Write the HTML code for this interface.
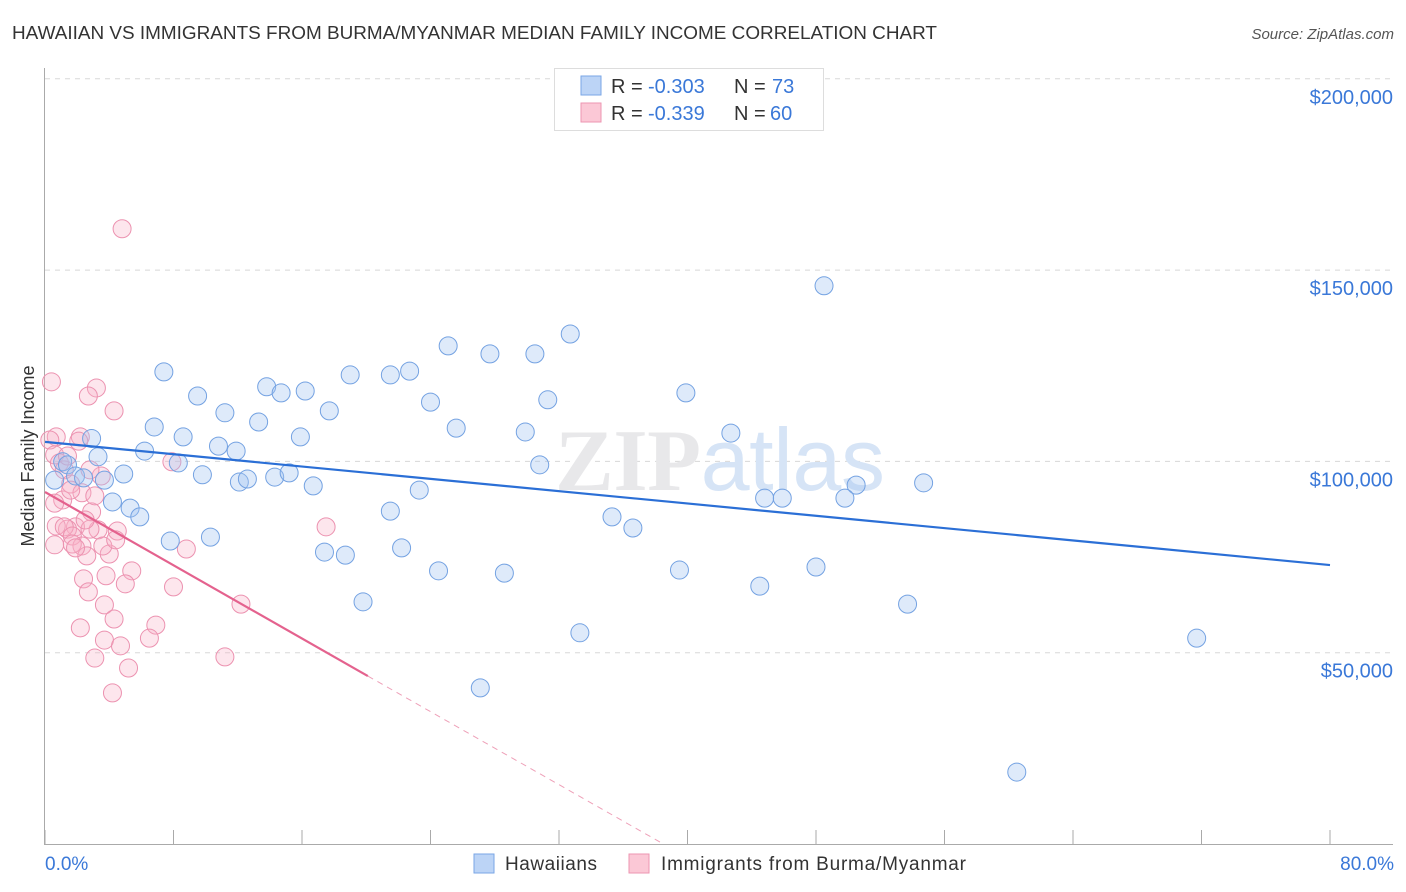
<!DOCTYPE html>
<html><head><meta charset="utf-8"><style>
body{margin:0;background:#fff;font-family:"Liberation Sans",sans-serif}
</style></head><body>
<svg width="1406" height="892" style="display:block">
<g id="grid"></g>
<text x="555" y="490" font-size="88" fill="#e8e8ea" font-family="Liberation Serif" font-weight="bold" textLength="330">ZIP<tspan fill="#d6e4f6" font-family="Liberation Sans" font-weight="normal">atlas</tspan></text>
<g id="axes"></g>
<g id="marks"></g>
<g id="trends"></g>
<text x="12" y="39" font-size="18" fill="#333" textLength="925" lengthAdjust="spacingAndGlyphs">HAWAIIAN VS IMMIGRANTS FROM BURMA/MYANMAR MEDIAN FAMILY INCOME CORRELATION CHART</text>
<text x="1394" y="39" font-size="15" fill="#555" font-style="italic" text-anchor="end">Source: ZipAtlas.com</text>
<text transform="translate(34,456) rotate(-90)" font-size="18" fill="#333" text-anchor="middle">Median Family Income</text>
<text x="45" y="870" font-size="19" fill="#3a78d8">0.0%</text>
<text x="1394" y="870" font-size="19" fill="#3a78d8" text-anchor="end">80.0%</text>
<g>
<rect x="554.5" y="68.5" width="269" height="62" fill="#fff" stroke="#ddd"/>
<rect x="581" y="76" width="20" height="19" fill="#bcd4f6" stroke="#7aa6e6"/>
<rect x="581" y="103" width="20" height="19" fill="#fbc8d6" stroke="#ec96b2"/>
<text x="611" y="93" font-size="20" fill="#333">R = <tspan fill="#3a78d8" x="648">-0.303</tspan><tspan x="734">N = </tspan><tspan fill="#3a78d8" x="772">73</tspan></text>
<text x="611" y="120" font-size="20" fill="#333">R = <tspan fill="#3a78d8" x="648">-0.339</tspan><tspan x="734">N = </tspan><tspan fill="#3a78d8" x="770">60</tspan></text>
</g>
<g>
<rect x="474" y="854" width="20" height="19" fill="#bcd4f6" stroke="#7aa6e6"/>
<text x="505" y="870" font-size="19" fill="#333" textLength="92">Hawaiians</text>
<rect x="629" y="854" width="20" height="19" fill="#fbc8d6" stroke="#ec96b2"/>
<text x="661" y="870" font-size="19" fill="#333" textLength="305">Immigrants from Burma/Myanmar</text>
</g>
</svg>
<script>
const yTicks=[50000,100000,150000,200000];
const yTickLabels=["$50,000","$100,000","$150,000","$200,000"];
const xTicks=[0,8,16,24,32,40,48,56,64,72,80];
const blueX=[7.4,2.9,6.8,8.6,9.5,11.2,13.8,14.7,16.2,13.3,10.8,11.9,15.9,17.7,19.0,21.5,22.7,25.1,27.7,30.5,32.7,24.0,25.6,31.3,29.9,39.9,42.7,48.5,6.2,3.3,4.9,8.3,9.8,12.1,12.6,14.3,15.2,16.7,23.3,21.5,30.8,35.3,36.6,44.8,45.9,50.5,49.8,54.7,4.2,5.3,5.9,7.8,10.3,17.4,18.7,22.2,24.5,28.6,39.5,44.5,48.0,19.8,33.3,53.7,71.7,27.1,60.5,1.1,1.4,1.9,2.4,0.6,3.7];
const blueY=[123.4,106.0,109.0,106.4,117.1,112.7,119.5,117.9,118.4,110.3,104.0,102.7,106.4,113.2,122.6,122.6,123.6,130.2,128.1,128.1,133.3,115.5,108.7,116.1,107.7,117.9,107.4,145.9,102.7,101.2,96.7,99.6,96.5,94.6,95.4,95.9,97.0,93.6,92.5,87.0,99.1,85.5,82.6,90.4,90.4,93.8,90.4,94.4,89.4,87.8,85.5,79.2,80.2,76.3,75.5,77.4,71.4,70.8,71.6,67.4,72.4,63.3,55.2,62.7,53.8,40.8,18.8,99.9,99.1,96.2,95.7,95.1,95.1];
const pinkX=[0.4,3.2,2.7,4.3,0.7,2.2,0.3,2.1,0.6,0.9,7.9,1.2,3.5,1.6,2.3,1.1,0.6,2.9,3.3,4.5,1.9,2.8,1.4,0.7,1.2,1.7,2.3,2.6,4.0,5.4,3.8,2.4,2.7,5.0,8.0,8.8,1.7,0.6,3.7,4.3,2.2,6.9,3.7,4.7,6.5,3.1,11.2,5.2,4.2,12.2,17.5,4.8,3.6,1.9,3.1,2.5,1.6,4.4,2.8,1.4];
const pinkY=[120.8,119.2,117.1,113.2,106.4,106.4,105.6,105.3,101.7,99.6,99.9,97.8,96.2,94.1,91.8,89.9,89.1,86.8,82.1,81.8,82.9,82.3,82.3,83.1,82.9,80.5,77.9,75.3,75.8,71.4,70.1,69.3,65.9,68.0,67.2,77.1,78.4,78.2,62.5,58.8,56.5,57.2,53.3,51.8,53.8,48.6,48.9,46.0,39.5,62.7,82.9,160.8,77.9,77.4,91.0,84.7,92.5,79.5,97.8,101.4];
const blueTrend=[105.1,72.9];
const pinkTrend=[92.0,43.9,20.1,38.5];
const NS="http://www.w3.org/2000/svg";
const X=p=>45+p*16.0625;
const Y=v=>844-v/50000*191.3;
const Yk=v=>Y(v*1000);
function mk(t,a,parent){const e=document.createElementNS(NS,t);for(const k in a)e.setAttribute(k,a[k]);parent.appendChild(e);return e;}
const grid=document.getElementById('grid'),axes=document.getElementById('axes'),marks=document.getElementById('marks'),trends=document.getElementById('trends');
yTicks.forEach((v,i)=>{
 const l=mk('line',{x1:45,x2:1393,y1:Y(v),y2:Y(v),stroke:'#d8d8d8','stroke-dasharray':'5,5'},grid);
 
 
 const t=mk('text',{x:1393,y:Y(v)+25,'font-size':20,fill:'#3a78d8','text-anchor':'end'},axes);
 t.textContent=yTickLabels[i];
 
 
});
const ax=mk('line',{x1:44.5,x2:44.5,y1:68,y2:844,stroke:'#aaa'},axes);


const bx=mk('line',{x1:44,x2:1393,y1:844.5,y2:844.5,stroke:'#aaa'},axes);


xTicks.forEach(p=>{
 const t=mk('line',{x1:X(p),x2:X(p),y1:830,y2:844,stroke:'#aaa'},axes);
 
 
});
pinkX.forEach((p,i)=>{
 const c=mk('circle',{cx:X(p),cy:Yk(pinkY[i]),r:9,fill:'rgba(248,178,200,0.32)',stroke:'#ec92b0','stroke-width':1},marks);
 
 
});
blueX.forEach((p,i)=>{
 const c=mk('circle',{cx:X(p),cy:Yk(blueY[i]),r:9,fill:'rgba(160,196,240,0.35)',stroke:'#74a2e2','stroke-width':1},marks);
 
 
});
const bt=mk('line',{x1:X(0),y1:Yk(blueTrend[0]),x2:X(80),y2:Yk(blueTrend[1]),stroke:'#2b6fd6','stroke-width':2.2},trends);


const pt=mk('line',{x1:X(0),y1:Yk(pinkTrend[0]),x2:X(pinkTrend[2]),y2:Yk(pinkTrend[1]),stroke:'#e4628e','stroke-width':2.2},trends);


const pd=mk('line',{x1:X(pinkTrend[2]),y1:Yk(pinkTrend[1]),x2:X(pinkTrend[3]),y2:Yk(0),stroke:'#eea0b8','stroke-width':1,'stroke-dasharray':'6,5'},trends);


</script>
</body></html>
